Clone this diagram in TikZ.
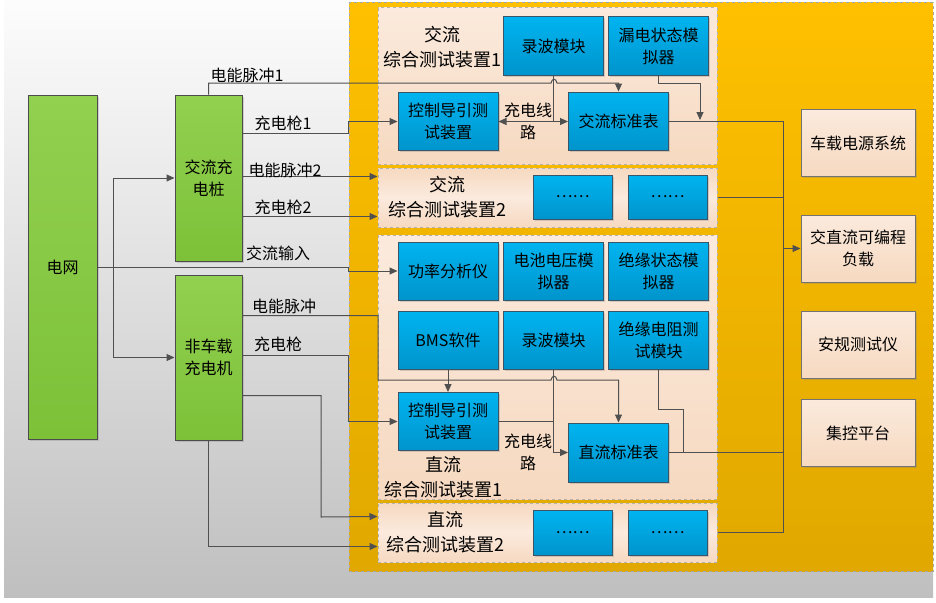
\documentclass[tikz,border=0pt]{standalone}
\usepackage{fontspec}
\setmainfont{Noto Sans CJK SC}
\usetikzlibrary{arrows.meta,calc,shadows}

\definecolor{gridgreen}{HTML}{92D050}
\definecolor{gridgreendk}{HTML}{7CC138}
\definecolor{modblue}{HTML}{00B4F0}
\definecolor{modbluedk}{HTML}{0094CC}
\definecolor{modedge}{HTML}{3A5468}
\definecolor{peach}{HTML}{F6D9C0}
\definecolor{peachlt}{HTML}{FBEADD}
\definecolor{panelyel}{HTML}{FFC000}
\definecolor{panelyeldk}{HTML}{E0A800}
\definecolor{wirecol}{HTML}{505050}

\newcommand\boxfont{\fontsize{16}{22}\selectfont}
\newcommand\devfont{\fontsize{18}{25}\selectfont}

\tikzset{
  wire/.style={draw=wirecol,line width=1pt},
  arr/.style={wire,-{Triangle[length=8pt,width=7pt]}},
  darr/.style={wire,{Triangle[length=8pt,width=7pt]}-{Triangle[length=8pt,width=7pt]}},
  basebox/.style={line width=1pt,align=center,inner sep=0pt,font=\boxfont,
    drop shadow={shadow xshift=1.5pt,shadow yshift=-1.5pt,opacity=.3}},
  greenbox/.style={basebox,draw=black!70,top color=gridgreen,bottom color=gridgreendk},
  bluebox/.style={basebox,draw=modedge,top color=modblue,bottom color=modbluedk,
    minimum width=100pt,minimum height=58pt},
  sidebox/.style={basebox,draw=black!55,top color=peachlt,bottom color=peach,
    minimum width=114pt,minimum height=67pt},
  panelbox/.style={draw=black!35,dashed,line width=1pt,top color=panelyel,bottom color=panelyeldk},
  devbox/.style={draw=black!30,dashed,line width=1pt,top color=peachlt,bottom color=peach,
    minimum width=339pt},
  devboxlt/.style={devbox,top color=peach,bottom color=peach,middle color=peachlt},
  lab/.style={font=\boxfont,inner sep=0pt},
  devlab/.style={font=\devfont,inner sep=0pt,align=center}
}

\begin{document}
\begin{tikzpicture}[x=1pt,y=-1pt]
\useasboundingbox (0,0) rectangle (936,602);
\shade[top color=white!99!black,bottom color=black!25] (4,0) rectangle (933,597);

\node[panelbox,minimum width=584pt,minimum height=568pt] (panel) at (641,287) {};
\node[devbox,minimum height=156pt] (acdev1) at (547.5,86) {};
\node[devboxlt,minimum height=59pt] (acdev2) at (547.5,197.5) {};
\node[devbox,minimum height=264pt] (dcdev1) at (547.5,367) {};
\node[devboxlt,minimum height=59pt] (dcdev2) at (547.5,532.5) {};

\node[greenbox,minimum width=69pt,minimum height=344pt] (grid) at (62.5,267) {电网};
\node[greenbox,minimum width=67pt,minimum height=166pt] (acpile) at (208.5,178) {交流充\\电桩};
\node[greenbox,minimum width=67pt,minimum height=165pt] (dcpile) at (208.5,357.5) {非车载\\充电机};

\node[bluebox] (rec1) at (553.5,46) {录波模块};
\node[bluebox] (leak) at (658.5,46) {漏电状态模\\拟器};
\node[bluebox] (acguide) at (448,121.5) {控制导引测\\试装置};
\node[bluebox] (acmeter) at (618.5,121) {交流标准表};
\node[bluebox,minimum width=79pt,minimum height=44pt] (dots1) at (572.5,197) {……};
\node[bluebox,minimum width=79pt,minimum height=44pt] (dots2) at (667.5,197) {……};

\node[bluebox] (power) at (448,271) {功率分析仪};
\node[bluebox] (batt) at (553.5,271) {电池电压模\\拟器};
\node[bluebox] (insul) at (658.5,271) {绝缘状态模\\拟器};
\node[bluebox] (bms) at (448,340) {BMS软件};
\node[bluebox] (rec2) at (553.5,340) {录波模块};
\node[bluebox] (insres) at (658.5,340) {绝缘电阻测\\试模块};
\node[bluebox] (dcguide) at (448,421.5) {控制导引测\\试装置};
\node[bluebox,minimum height=59pt] (dcmeter) at (618.5,452.5) {直流标准表};
\node[bluebox,minimum width=79pt,minimum height=45pt] (dots3) at (572.5,532.5) {……};
\node[bluebox,minimum width=79pt,minimum height=45pt] (dots4) at (667.5,532.5) {……};

\node[sidebox] (car) at (858,143) {车载电源系统};
\node[sidebox] (load) at (858,248.5) {交直流可编程\\负载};
\node[sidebox] (safety) at (858,344.5) {安规测试仪};
\node[sidebox] (ctrl) at (858,433) {集控平台};

\coordinate (split) at (113,267);
\draw[arr] (grid.east) -- (grid.east -| panel.west) |- (power.west);
\draw[arr] (split) |- (acpile.west);
\draw[arr] (split) |- (dcpile.west);

\draw[arr] (acpile.north) |- (551,83) .. controls (552,78) and (556,78) .. (557,83) -| (acmeter.north);
\draw[arr] ($(acpile.north east)+(0,39)$) coordinate (acgun1) -- (acgun1 -| panel.west) |- (acguide.west);
\draw[arr] ($(acpile.north east)+(0,82)$) coordinate (acpulse2) -- (acpulse2 -| acdev2.west);
\draw[arr] ($(acpile.north east)+(0,122)$) coordinate (acgun2) -- (acgun2 -| acdev2.west);

\draw[wire] (rec1.south) -- (rec1.south |- acguide.east);
\draw[darr] (acguide.east) -- (acguide.east -| acmeter.west);
\draw[arr] (leak.south) -- ++(0,8) -| ($(acmeter.east)+(31,-1)$);

\coordinate (bus) at (783,0);
\draw[wire] (acmeter.east) -| (bus |- dcdev2.east) -- (dcdev2.east);
\draw[wire] (acdev2.east) -- (acdev2.east -| bus);
\draw[wire] (dcmeter.east) -- (dcmeter.east -| bus);
\draw[arr] (bus |- load.west) -- (load.west);

\coordinate (dcpulse) at (378,380);
\draw[arr] ($(dcpile.north east)+(0,41)$) -| (dcpulse) -- (551,380) .. controls (552,375) and (556,375) .. (557,380) -| (dcmeter.north);
\draw[arr] ($(dcpile.north east)+(0,81)$) coordinate (dcgun) -- (dcgun -| panel.west) |- (dcguide.west);
\draw[arr] ($(dcpile.north east)+(0,121)$) -| (321,517) -- ($(dcdev2.north west)+(0,14)$);
\draw[arr] (dcpile.south) |- ($(dcdev2.south west)+(0,-16)$);

\draw[arr] (bms.south) -- (dcguide.north);
\draw[wire] (dcguide.east) -- (dcguide.east -| rec2.south);
\draw[arr] (rec2.south) |- (dcmeter.west);
\draw[wire] (insres.south) -- ++(0,40) -| ($(dcmeter.east)+(14,0)$);

\node[lab] (lpulse1) at (247,75) {电能脉冲1};
\node[lab] (lgun1) at (283,123) {充电枪1};
\node[lab] (lpulse2) at (285,170) {电能脉冲2};
\node[lab] (lgun2) at (283,207) {充电枪2};
\node[lab] (lacin) at (278,253) {交流输入};
\node[lab] (lpulse) at (284,306) {电能脉冲};
\node[lab] (lgun) at (278,344) {充电枪};
\node[lab,align=center] (lacline) at (528,121) {充电线\\路};
\node[lab,align=center] (ldcline) at (528,452) {充电线\\路};

\node[devlab] (lacdev1) at (442,47) {交流\\综合测试装置1};
\node[devlab] (lacdev2) at (447,197) {交流\\综合测试装置2};
\node[devlab] (ldcdev1) at (443,477) {直流\\综合测试装置1};
\node[devlab] (ldcdev2) at (445,532) {直流\\综合测试装置2};
\end{tikzpicture}
\end{document}
